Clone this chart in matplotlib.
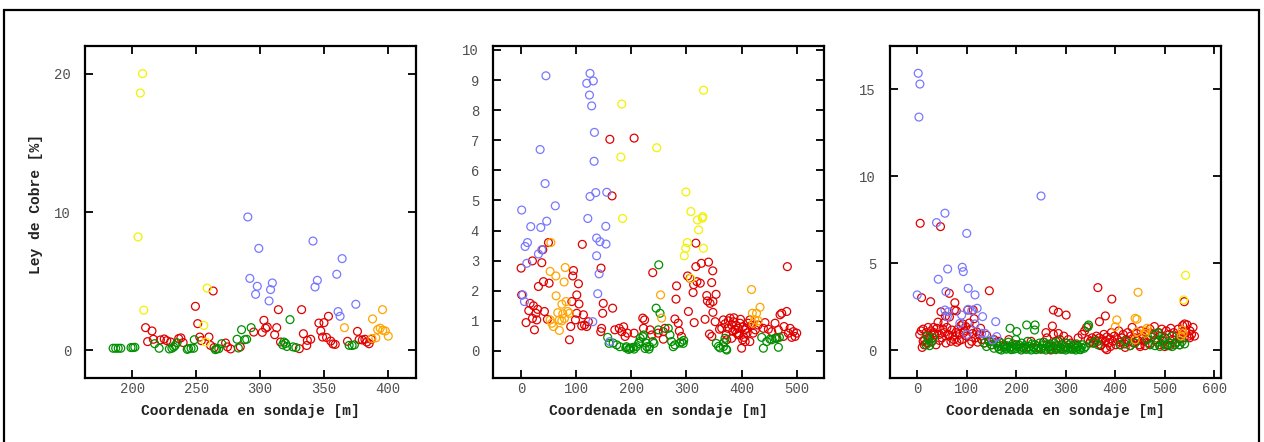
import matplotlib
matplotlib.use("Agg")
import matplotlib.pyplot as plt
from matplotlib.patches import Rectangle

# ---- panel 1 ----
p1_red_x = [249.4, 263.3, 251.2, 210.4, 215.4, 212, 216.5, 225, 227, 236.3, 238, 239.8, 252.8, 254, 260,
            261.2, 264, 273, 277, 274.5, 284.5, 303, 301.7, 305.6, 304.3, 295, 314.3, 313, 311.4, 316,
            332.5, 333.9, 330.7, 337, 339.6, 336.5, 346, 350, 353.5, 347.5, 348.9, 352, 355.3, 357, 358.8,
            368.4, 376.2, 377.5, 380, 382, 383.5, 385.3, 387, 222, 230]
p1_red_y = [3.18, 4.29, 1.93, 1.64, 1.4, 0.63, 0.8, 0.82, 0.7, 0.85, 0.9, 0.56, 0.96, 0.7, 0.96,
            0.36, 0.2, 0.53, 0.1, 0.25, 0.25, 2.17, 1.3, 1.69, 1.6, 1.32, 2.94, 1.64, 1.13, 0.6,
            2.94, 1.2, 0.12, 0.72, 0.8, 0.35, 1.97, 2.0, 2.46, 1.4, 0.96, 0.93, 0.67, 0.46, 0.43,
            0.65, 1.37, 0.77, 0.75, 0.8, 0.6, 0.48, 0.8, 0.75, 0.6]
p1_green_x = [185, 187, 189, 191, 199, 200.5, 202, 217.5, 221, 229, 231, 233.5, 235, 243, 246, 248, 248.5,
              265, 266, 282, 283, 285.5, 288, 289.5, 293, 317.7, 320, 321, 323.4, 325.7, 328, 369.7, 372,
              373.8, 232.4, 244, 267.7, 270, 318.7]
p1_green_y = [0.15, 0.15, 0.15, 0.15, 0.2, 0.2, 0.22, 0.48, 0.15, 0.1, 0.15, 0.35, 0.55, 0.07, 0.15, 0.15,
              0.77, 0.05, 0.1, 0.8, 0.17, 1.49, 0.77, 0.8, 1.64, 0.4, 0.5, 0.28, 2.22, 0.25, 0.2, 0.36,
              0.35, 0.4, 0.24, 0.12, 0.12, 0.48, 0.6]
p1_blue_x = [290.4, 299, 292, 297.8, 296.5, 307, 309.6, 308.2, 341.4, 343, 344.8, 360, 364.2, 361, 362.6, 374.9]
p1_blue_y = [9.64, 7.37, 5.2, 4.63, 4.05, 3.57, 4.87, 4.39, 7.9, 4.58, 5.06, 5.5, 6.63, 2.8, 2.46, 3.33]
p1_orange_x = [366, 388, 395.8, 392, 394, 396, 398, 400.3, 390.6, 387.5]
p1_orange_y = [1.64, 2.27, 2.94, 1.5, 1.6, 1.45, 1.4, 1.03, 0.9, 0.85]
p1_yellow_x = [208, 206.3, 204.5, 209, 258.6, 256, 257.5]
p1_yellow_y = [20.0, 18.6, 8.2, 2.9, 4.5, 1.8, 0.6]

# ---- panel 2 ----
p2_red_x = [0, 1, 20.5, 37.5, 39.3, 49.6, 31.4, 40.5, 50.8, 9, 13.9, 16.3, 22.4, 27, 30, 20.5, 28.4, 24.2,
            42.3, 47.7, 95, 93.7, 101, 104, 105, 92, 90, 87.7, 98.6, 101, 110, 113, 115, 119, 122, 111,
            145, 149, 148, 166, 161, 205, 165, 146, 144.5, 170, 178, 186, 220.7, 238.8, 205, 222, 234,
            237, 258, 258, 261, 279, 282, 281, 285, 287, 291, 303.5, 314, 317, 302, 306.5, 313, 319, 325,
            312, 317, 327, 340, 347.6, 345.7, 336.8, 338, 342.8, 348, 348, 353.7, 333.7, 352, 341.7, 346,
            367, 364, 375, 379, 382, 385, 388, 391, 394, 397, 400, 402, 406.5, 409, 412, 415, 406, 394,
            430, 439.5, 442.5, 448.6, 454.6, 460.7, 466.7, 469.8, 472.8, 475.8, 481.9, 483, 484.9, 488,
            491, 494, 497, 500, 477, 463.7, 415, 421, 373, 382, 193, 182.6, 188.6, 224, 248.5,
            370, 376, 384, 390, 396, 403, 410, 418, 425, 360, 372, 386, 398, 404]
p2_red_y = [2.75, 1.86, 2.99, 2.93, 3.36, 3.6, 2.14, 2.3, 2.25, 0.94, 1.34, 1.58, 1.5, 1.25, 1.38, 1.08, 1.03,
            0.7, 1.31, 1.05, 2.67, 2.49, 1.86, 2.23, 1.56, 1.64, 0.81, 0.37, 1.03, 1.25, 0.83, 1.2, 0.86,
            0.81, 0.97, 3.54, 2.75, 1.58, 1.25, 1.42, 7.03, 7.07, 5.15, 0.75, 0.64, 0.7, 0.75, 0.8, 1.09,
            2.6, 0.59, 0.75, 0.7, 0.53, 0.64, 0.39, 0.75, 1.06, 2.16, 1.72, 0.92, 0.66, 0.48, 1.31, 0.94,
            3.58, 2.49, 2.41, 2.2, 2.3, 2.25, 1.94, 2.8, 2.91, 2.95, 2.66, 2.27, 1.84, 1.66, 1.58, 1.64,
            1.28, 1.88, 1.05, 0.97, 0.56, 0.48, 1.03, 0.75, 0.75, 1.09, 0.86, 0.97, 0.7, 0.59, 0.75, 0.92,
            0.09, 0.37, 0.31, 0.75, 0.92, 1.03, 0.7, 0.53, 0.86, 0.75, 0.94, 0.72, 0.64, 0.92, 0.7, 1.2,
            1.25, 0.48, 1.31, 2.8, 0.59, 0.75, 0.45, 0.64, 0.48, 0.59, 0.81, 0.42, 0.31, 0.59, 0.37, 0.42,
            0.59, 0.64, 0.48, 1.03, 0.59,
            0.9, 1.0, 0.65, 0.85, 0.55, 0.8, 0.6, 0.85, 0.7, 0.72, 0.55, 1.1, 1.05, 0.45]
p2_green_x = [249.7, 245, 252, 157, 159.6, 173.5, 190, 195, 199, 203, 205, 213, 216, 222, 228, 232, 225, 241,
              249, 267, 270, 273, 276, 291, 294, 295, 354, 358, 361, 370, 368, 372, 436.5, 439.5, 445.6,
              451.6, 460.7, 466.7, 468.6, 167, 179, 191, 197, 209, 215, 221, 227, 233, 239, 279, 288,
              367, 373, 454.7, 463.8]
p2_green_y = [2.86, 1.42, 1.25, 0.45, 0.25, 0.2, 0.1, 0.05, 0.08, 0.12, 0.06, 0.25, 0.42, 0.53, 0.14, 0.06,
              0.08, 0.25, 0.7, 0.75, 0.53, 0.31, 0.14, 0.3, 0.25, 0.35, 0.25, 0.15, 0.1, 0.42, 0.28, 0.06,
              0.45, 0.09, 0.31, 0.39, 0.42, 0.12, 0.45, 0.26, 0.14, 0.14, 0.09, 0.14, 0.31, 0.47, 0.26,
              0.14, 0.31, 0.2, 0.26, 0.14, 0.03, 0.37, 0.42]
p2_blue_x = [45, 34.5, 43.5, 62, 46.5, 17.5, 35.7, 7.3, 11.5, 10.3, 31.4, 37.5, 1, 3, 6, 125, 119, 131, 124,
             128, 133, 132.4, 135.4, 125, 155.4, 121, 153.6, 137, 143, 154, 137, 141.5, 139, 130, 161]
p2_blue_y = [9.14, 6.69, 5.56, 4.82, 4.31, 4.13, 4.1, 3.47, 3.6, 2.91, 3.22, 3.36, 4.68, 1.86, 1.64, 9.22,
             8.89, 8.97, 8.5, 8.14, 7.26, 6.3, 5.26, 5.13, 5.27, 4.4, 4.14, 3.75, 3.63, 3.55, 3.16, 2.56,
             1.9, 0.97, 0.31]
p2_orange_x = [54, 52.6, 63, 80, 78, 63.5, 74, 81.6, 66.5, 69.4, 73.8, 78.6, 84.6, 87.7, 75.6, 55.6, 58.6,
               69.4, 52.6, 253, 255, 418, 433.5, 419.5, 427, 424, 430, 421]
p2_orange_y = [3.6, 2.64, 2.49, 2.77, 2.29, 1.83, 1.55, 1.64, 1.27, 1.03, 1.0, 1.08, 1.31, 1.25, 1.23, 0.92,
               0.81, 0.68, 1.03, 1.86, 1.09, 2.04, 1.45, 1.25, 1.25, 1.03, 1.0, 0.92]
p2_yellow_x = [182.6, 331, 181, 246, 184, 299, 308, 320, 329, 329.5, 322, 301.7, 298.7, 330.7, 296, 307.7]
p2_yellow_y = [8.2, 8.66, 6.44, 6.75, 4.4, 5.28, 4.63, 4.35, 4.41, 4.46, 4.02, 3.6, 3.41, 3.41, 3.16, 2.41]

# ---- panel 3 ----
p3_red_x = [6, 47, 8.8, 27, 64.7, 76, 145.6, 113, 275, 285, 300.7, 364.8, 393, 368, 380, 539.4, 273, 57, 79,
            5, 8, 10, 12, 15, 18, 20, 22, 25, 28, 30, 33, 35, 38, 40, 42, 45, 48, 50, 52, 55, 58, 60, 62,
            65, 68, 70, 72, 75, 78, 80, 82, 85, 88, 90, 92, 95, 98, 100, 102, 105, 108, 110, 112, 115, 118,
            120, 122, 125, 128, 130, 135, 140, 145, 150, 155, 160, 12, 25, 45, 65, 85, 105, 14, 34, 54, 74, 94,
            165, 175, 185, 200, 215, 230, 245, 250, 255, 262, 268, 275, 280, 283, 288, 292, 296, 300, 305,
            310, 318, 325, 333, 338, 342, 345, 348, 270, 290, 260, 285,
            350, 353, 356, 359, 362, 365, 368, 371, 374, 377, 380, 383, 386, 389, 392, 395, 398, 401, 404,
            407, 410, 413, 416, 419, 422, 425, 428, 431, 434, 437, 440, 443, 446, 449, 452, 455, 458, 461,
            464, 467, 470, 473, 476, 479, 482, 485, 488, 491, 494, 497, 500, 503, 506, 509, 512, 515, 518,
            521, 524, 527, 530, 533, 536, 539, 542, 545, 548, 551, 554, 557, 560, 370, 390, 410, 430, 450,
            470, 490, 510, 530, 550, 380, 420, 460, 500, 540, 383]
p3_red_y = [7.29, 7.1, 3.01, 2.78, 3.26, 2.72, 3.41, 2.3, 2.3, 2.17, 2.01, 3.59, 2.93, 1.63, 1.96, 2.78, 1.38,
            1.95, 2.25,
            0.9, 1.1, 0.15, 1.2, 0.6, 1.0, 0.4, 1.3, 0.8, 1.1, 0.5, 1.3, 0.9, 0.3, 1.25, 1.6, 0.9, 2.2, 0.7,
            1.2, 1.0, 0.4, 1.3, 0.9, 1.9, 0.5, 1.15, 0.8, 2.3, 1.0, 0.45, 1.2, 0.9, 1.4, 0.6, 1.5, 1.1, 1.35,
            0.8, 2.3, 0.35, 1.2, 0.5, 0.95, 1.8, 0.7, 1.05, 0.45, 0.9, 1.25, 0.6, 0.4, 0.85, 0.5, 0.3, 0.6,
            0.45, 0.5, 0.7, 0.55, 0.85, 0.55, 1.55, 0.3, 1.0, 1.55, 0.6, 1.0,
            0.5, 0.2, 0.6, 0.3, 0.1, 0.5, 0.1, 0.05, 0.45, 0.7, 0.2, 0.9, 0.5, 0.1, 0.6, 0.3, 0.8, 0.15,
            0.6, 0.4, 0.3, 0.7, 0.9, 1.1, 1.3, 0.6, 0.4, 0.0, 0.05, 1.0, 0.95,
            0.5, 0.7, 0.4, 0.6, 0.8, 0.5, 0.7, 0.3, 0.6, 0.9, 0.5, 0.75, 0.4, 0.65, 1.0, 0.5, 0.8, 0.3, 0.6,
            1.1, 0.45, 0.7, 0.9, 0.35, 0.6, 1.0, 0.5, 0.8, 1.3, 0.4, 0.7, 0.95, 0.55, 0.3, 1.1, 0.8, 0.5,
            1.0, 0.65, 0.4, 1.2, 0.75, 0.9, 1.35, 0.6, 0.45, 1.0, 0.8, 1.2, 0.5, 0.7, 1.1, 0.3, 0.9, 1.25,
            0.6, 1.0, 0.4, 0.8, 1.2, 0.65, 0.9, 1.4, 0.7, 1.0, 1.45, 0.8, 1.1, 0.9, 1.3, 0.8, 0.25, 0.2,
            0.3, 0.25, 0.2, 0.35, 0.3, 0.25, 0.3, 0.7, 0.1, 0.15, 0.25, 0.2, 1.5, 0.02]
p3_green_x = [18, 22, 25, 28, 32, 20,
              135, 140, 145, 150, 155, 160, 163, 166, 169, 172, 175, 178, 181, 184, 187, 190, 193, 196, 199,
              202, 205, 208, 211, 214, 217, 220, 223, 226, 229, 232, 235, 238, 241, 244, 247, 250, 253, 256,
              259, 262, 265, 268, 271, 274, 277, 280, 283, 286, 289, 292, 295, 298, 301, 304, 307, 310, 313,
              316, 319, 322, 325, 328, 331, 334, 337, 340, 170, 180, 190, 200, 210, 220, 230, 240, 250, 260,
              270, 280, 290, 300, 310, 320, 330, 187.5, 201, 221, 238, 237, 346, 345,
              355, 360, 365, 410, 420, 430, 440, 470, 480, 485, 490, 495, 500, 505, 510, 515, 520, 525, 530,
              535, 540, 480, 486, 465, 500, 515]
p3_green_y = [0.3, 0.6, 0.25, 0.45, 0.7, 0.8,
              0.4, 0.2, 0.5, 0.3, 0.1, 0.35, 0.2, 0.05, 0.4, 0.15, 0.3, 0.1, 0.25, 0.45, 0.1, 0.2, 0.35, 0.05,
              0.6, 0.2, 0.3, 0.1, 0.4, 0.15, 0.25, 0.05, 0.5, 0.2, 0.1, 0.35, 0.15, 0.3, 0.05, 0.2, 0.4, 0.1,
              0.25, 0.45, 0.1, 0.3, 0.15, 0.35, 0.05, 0.2, 0.4, 0.1, 0.25, 0.5, 0.15, 0.3, 0.05, 0.2, 0.4,
              0.1, 0.3, 0.15, 0.05, 0.25, 0.1, 0.35, 0.2, 0.05, 0.15, 0.3, 0.1, 0.2, 0.0, 0.05, 0.02, 0.1,
              0.0, 0.05, 0.0, 0.02, 0.05, 0.0, 0.1, 0.02, 0.05, 0.0, 0.05, 0.0, 0.02, 1.25, 1.06, 1.44, 1.44,
              1.15, 1.44, 1.34,
              0.4, 0.5, 0.3, 0.3, 0.5, 0.25, 0.4, 0.3, 0.25, 0.45, 0.2, 0.55, 0.35, 0.25, 0.4, 0.2, 0.3, 0.45,
              0.3, 0.5, 0.35, 0.9, 1.0, 0.6, 0.7, 0.8]
p3_blue_x = [2, 5.4, 3.4, 0, 39, 56, 100, 61.4, 91, 93, 42.5, 103, 116.7, 58, 56, 103, 110, 121, 60.7, 89.7,
             132, 116.7, 158.5, 100, 130, 137, 250, 86, 160.5, 152.4, 62.7]
p3_blue_y = [15.92, 15.3, 13.4, 3.17, 7.33, 7.87, 6.71, 4.66, 4.76, 4.51, 4.07, 3.55, 3.17, 3.36, 2.3, 2.34,
             2.26, 2.4, 1.92, 2.01, 1.92, 1.5, 1.63, 0.9, 0.96, 0.96, 8.86, 1.53, 0.77, 0.58, 2.2]
p3_orange_x = [446, 443.7, 403, 400, 440, 443.7, 440, 464, 460.6, 535, 537, 533, 462]
p3_orange_y = [3.32, 1.77, 1.73, 1.34, 1.82, 1.05, 0.58, 1.25, 0.96, 1.15, 0.95, 0.8, 1.1]
p3_yellow_x = [542, 538]
p3_yellow_y = [4.3, 2.88]

colors = {'red': '#e00000', 'green': '#009000', 'blue': '#7878ff',
          'orange': '#ffa500', 'yellow': '#f2f200'}

panels = [
    dict(series=[('red', p1_red_x, p1_red_y), ('green', p1_green_x, p1_green_y),
                 ('blue', p1_blue_x, p1_blue_y), ('orange', p1_orange_x, p1_orange_y),
                 ('yellow', p1_yellow_x, p1_yellow_y)],
         xlim=(163, 422), ylim=(-2, 22), xticks=[200, 250, 300, 350, 400], yticks=[0, 10, 20],
         left=85),
    dict(series=[('red', p2_red_x, p2_red_y), ('green', p2_green_x, p2_green_y),
                 ('blue', p2_blue_x, p2_blue_y), ('orange', p2_orange_x, p2_orange_y),
                 ('yellow', p2_yellow_x, p2_yellow_y)],
         xlim=(-51, 549.5), ylim=(-0.9, 10.13), xticks=[0, 100, 200, 300, 400, 500],
         yticks=list(range(11)), left=493),
    dict(series=[('red', p3_red_x, p3_red_y), ('green', p3_green_x, p3_green_y),
                 ('blue', p3_blue_x, p3_blue_y), ('orange', p3_orange_x, p3_orange_y),
                 ('yellow', p3_yellow_x, p3_yellow_y)],
         xlim=(-55, 613.5), ylim=(-1.61, 17.49), xticks=[0, 100, 200, 300, 400, 500, 600],
         yticks=[0, 5, 10, 15], left=890),
]

W, H = 1264, 442
fig = plt.figure(figsize=(W / 100, H / 100), dpi=100)
mono = 'Liberation Mono'

for i, p in enumerate(panels):
    ax = fig.add_axes([p['left'] / W, (H - 378) / H, 331 / W, 332 / H])
    for name, xs, ys in p['series']:
        ax.scatter(xs, ys, s=32, facecolors='none', edgecolors=colors[name], linewidths=0.9)
    ax.set_xlim(*p['xlim'])
    ax.set_ylim(*p['ylim'])
    ax.set_xticks(p['xticks'])
    ax.set_yticks(p['yticks'])
    ax.tick_params(direction='in', length=6, width=1.3, top=True, right=True,
                   labelsize=10, labelcolor='#505050')
    ax.tick_params(axis='x', pad=3)
    ax.tick_params(axis='y', pad=10)
    for lab in ax.get_xticklabels() + ax.get_yticklabels():
        lab.set_family(mono)
    for sp in ax.spines.values():
        sp.set_linewidth(1.6)
    ax.set_xlabel('Coordenada en sondaje [m]', family=mono, fontsize=10.5,
                  fontweight='bold', color='#222222', va='center')
    ax.xaxis.set_label_coords(0.5, -33 / 332)
    if i == 0:
        ax.set_ylabel('Ley de Cobre [%]', family=mono, fontsize=10.5,
                      fontweight='bold', color='#222222', va='center')
        ax.yaxis.set_label_coords(-49 / 331, 0.524)

fig.patches.append(Rectangle((4 / W, -0.05), (1259 - 4) / W, 1.05 - 10 / H,
                             transform=fig.transFigure, fill=False, lw=1.6,
                             edgecolor='black'))

fig.savefig('out.png', dpi=100)
